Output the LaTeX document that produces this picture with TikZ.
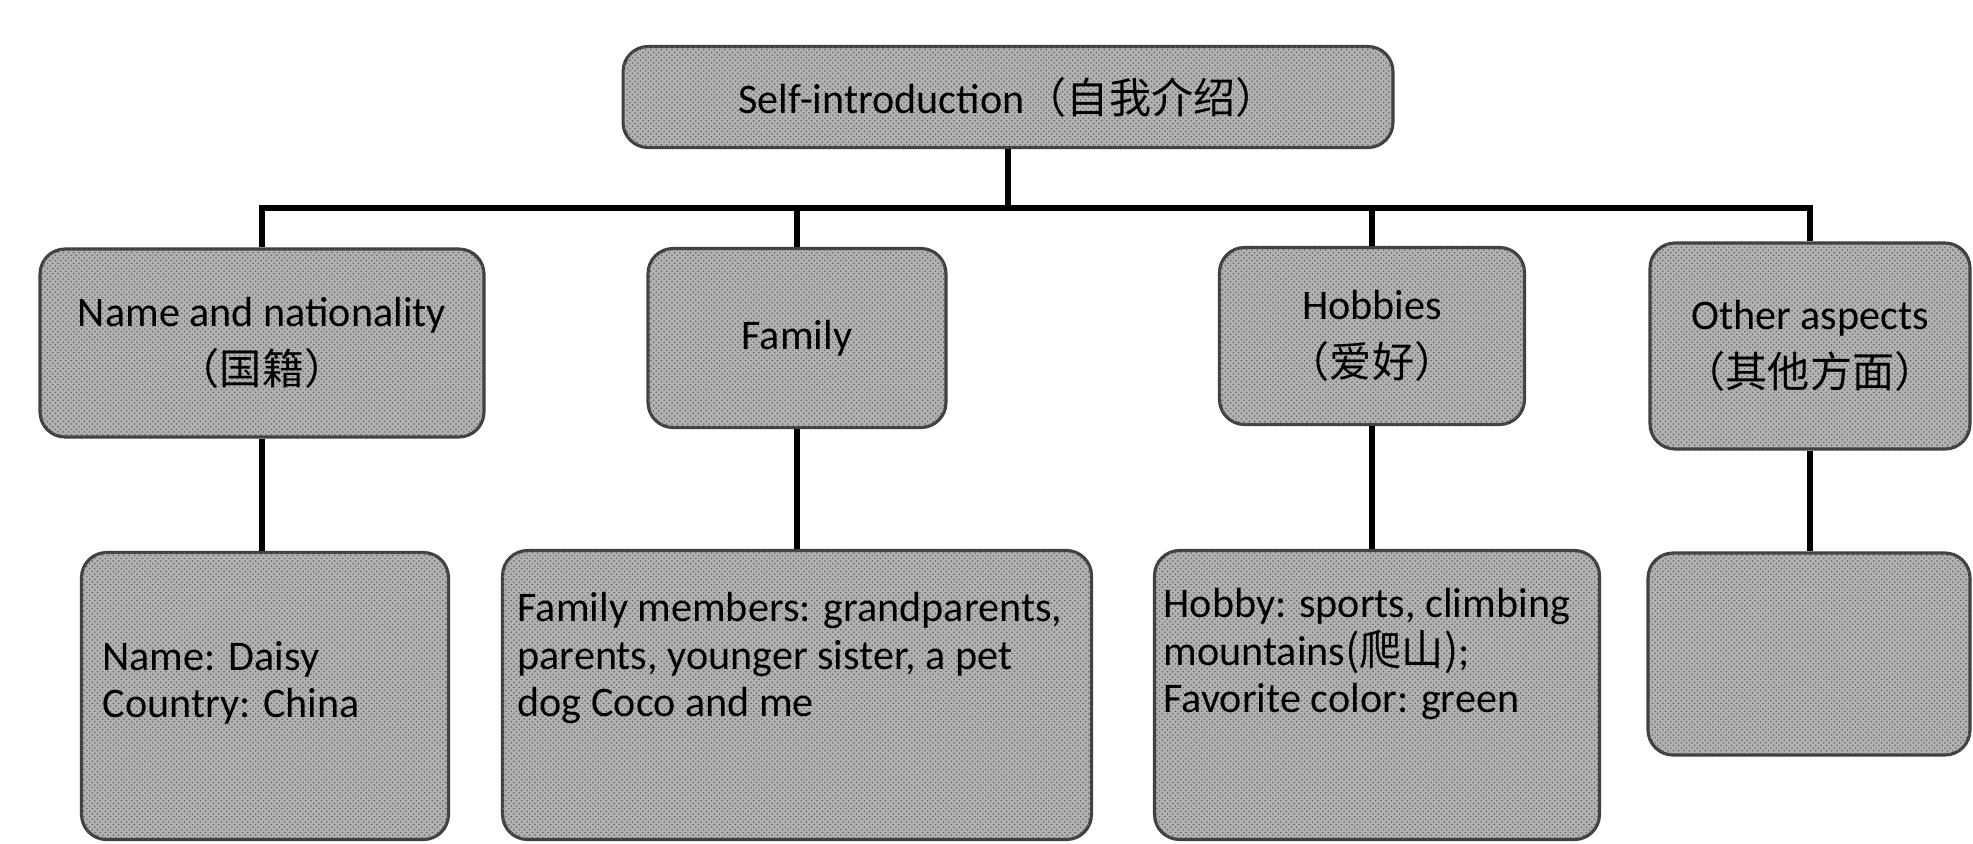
\documentclass[tikz,border=0pt]{standalone}
\usepackage{fontspec}
\setmainfont{Carlito}
\newfontfamily\cjk{Noto Sans CJK SC}
\usetikzlibrary{patterns}
\newcommand{\boxtext}[4]{\parbox[c][#2][t]{#1}{\raggedright\vspace*{#3}#4}}

\begin{document}
\begin{tikzpicture}[x=0.02cm, y=-0.02cm,
        every node/.style={font=\fontsize{24}{27}\selectfont},
        card/.style={draw=black!75, line width=1.8pt, rounded corners=0.5cm,
            fill=black!30,
            postaction={pattern=crosshatch dots, pattern color=black!60},
            align=center, inner sep=0pt},
        link/.style={line width=3.4pt, black}
    ]
    \useasboundingbox (0,0) rectangle (1973,843);
    % top of the chart
    \node[card, minimum width=15.4cm, minimum height=2.02cm] (self) at (1008,97)
        {Self-introduction{\cjk （自我介绍）}};
    % second row
    \node[card, minimum width=8.88cm, minimum height=3.76cm] (name) at (262,343)
        {Name and nationality\\[6pt]{\cjk （国籍）}};
    \node[card, minimum width=5.96cm, minimum height=3.58cm] (family) at (797,338)
        {Family};
    \node[card, minimum width=6.1cm, minimum height=3.54cm] (hobbies) at (1372,336)
        {Hobbies\\[6pt]{\cjk （爱好）}};
    \node[card, minimum width=6.4cm, minimum height=4.12cm] (other) at (1810,346)
        {Other aspects\\[6pt]{\cjk （其他方面）}};
    % third row
    \node[card, inner xsep=0.42cm] (dname) at (265,696)
        {\boxtext{6.5cm}{5.74cm}{1.78cm}{Name: Daisy\\Country: China}};
    \node[card, inner xsep=0.3cm] (dfamily) at (797,695)
        {\boxtext{11.18cm}{5.78cm}{0.84cm}{Family members: grandparents,\\
            parents, younger sister, a pet\\dog Coco and me}};
    \node[card, inner xsep=0.18cm] (dhobby) at (1377,695)
        {\boxtext{8.54cm}{5.78cm}{0.76cm}{Hobby: sports, climbing\\
            mountains{\cjk (爬山)};\\Favorite color: green}};
    \node[card, minimum width=6.44cm, minimum height=4.04cm] (dother) at (1809,654) {};
    % connectors
    \coordinate (bar) at (1008,208);
    \draw[link] (self.south) -- (bar);
    \draw[link] (name.north) -- (name.north |- bar) -- (other.north |- bar) -- (other.north);
    \foreach \n in {family,hobbies}
        \draw[link] (\n.north) -- (\n.north |- bar);
    \foreach \a/\b in {name/dname,family/dfamily,hobbies/dhobby,other/dother}
        \draw[link] (\a.south) -- (\a.south |- \b.north);
\end{tikzpicture}
\end{document}
